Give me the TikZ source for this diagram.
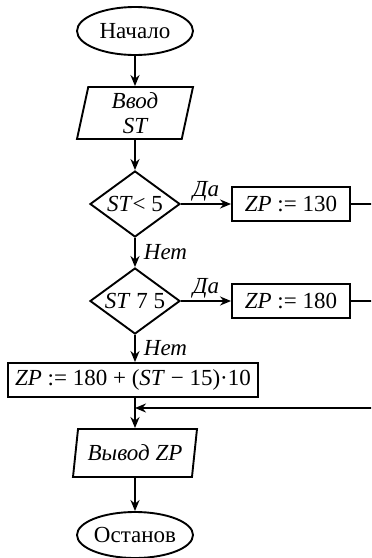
\documentclass[tikz,border=0pt]{standalone}
\usepackage{fontspec}
\setmainfont{Liberation Serif}
\usetikzlibrary{arrows.meta,shapes.geometric}

\begin{document}
\begin{tikzpicture}[x=0.5pt, y=-0.5pt, line width=0.95pt,
    font=\fontsize{11.5}{12.5}\selectfont,
    term/.style={ellipse, draw, minimum width=58pt, minimum height=24pt, inner sep=0pt},
    io/.style={trapezium, trapezium left angle=76, trapezium right angle=104,
        trapezium stretches body, draw, align=center, inner sep=1pt, font=\fontsize{11.5}{12.5}\selectfont\itshape},
    cond/.style={diamond, draw, aspect=1.36, minimum width=45pt, minimum height=33pt, inner sep=0pt},
    act/.style={rectangle, draw, minimum height=17pt, inner sep=2pt},
    arr/.style={-{Stealth[length=5.5pt,width=4.5pt]}},
    lbl/.style={font=\fontsize{11.5}{12.5}\selectfont\itshape, inner sep=1pt}]
    \useasboundingbox (0,0) rectangle (371,558);
    \clip (0,0) rectangle (371,558);

    \node[term] (start) at (135,31) {Начало};
    \node[io, minimum width=58pt, minimum height=26pt] (inp) at (135,113) {Ввод\\ST};
    \node[cond] (c1) at (135,204) {\textit{ST}< 5};
    \node[act, minimum width=59pt] (z130) at (291,204) {\textit{ZP} := 130};
    \node[cond] (c2) at (135,301) {\textit{ST} 7 5};
    \node[act, minimum width=59pt] (z180) at (291,301) {\textit{ZP} := 180};
    \node[act, minimum width=125pt] (zf) at (133,380) {\textit{ZP} := 180 + (\textit{ST} − 15)·10};
    \coordinate (mrg) at (135,408);
    \node[io, minimum width=62pt, minimum height=24pt] (out) at (135,453) {Вывод ZP};
    \node[term, minimum height=23pt] (stop) at (135,535) {Останов};
    \coordinate (rt) at (378,408);

    \draw[arr] (start) -- (inp);
    \draw[arr] (inp) -- (c1);
    \draw[arr] (c1.east) -- node[lbl, above] {Да} (z130.west);
    \draw[arr] (c1.south) -- node[lbl, right, xshift=3pt] {Нет} (c2.north);
    \draw[arr] (c2.east) -- node[lbl, above] {Да} (z180.west);
    \draw[arr] (c2.south) -- node[lbl, right, xshift=3pt] {Нет} (zf.north -| c2.south);
    \draw (zf.south -| mrg) -- (mrg);
    \draw[arr] (mrg) -- (out);
    \draw[arr] (out) -- (stop);
    \draw[arr] (z130.east) -| (rt) -- (mrg);
    \draw (z180.east) -- (z180.east -| rt);
\end{tikzpicture}
\end{document}
